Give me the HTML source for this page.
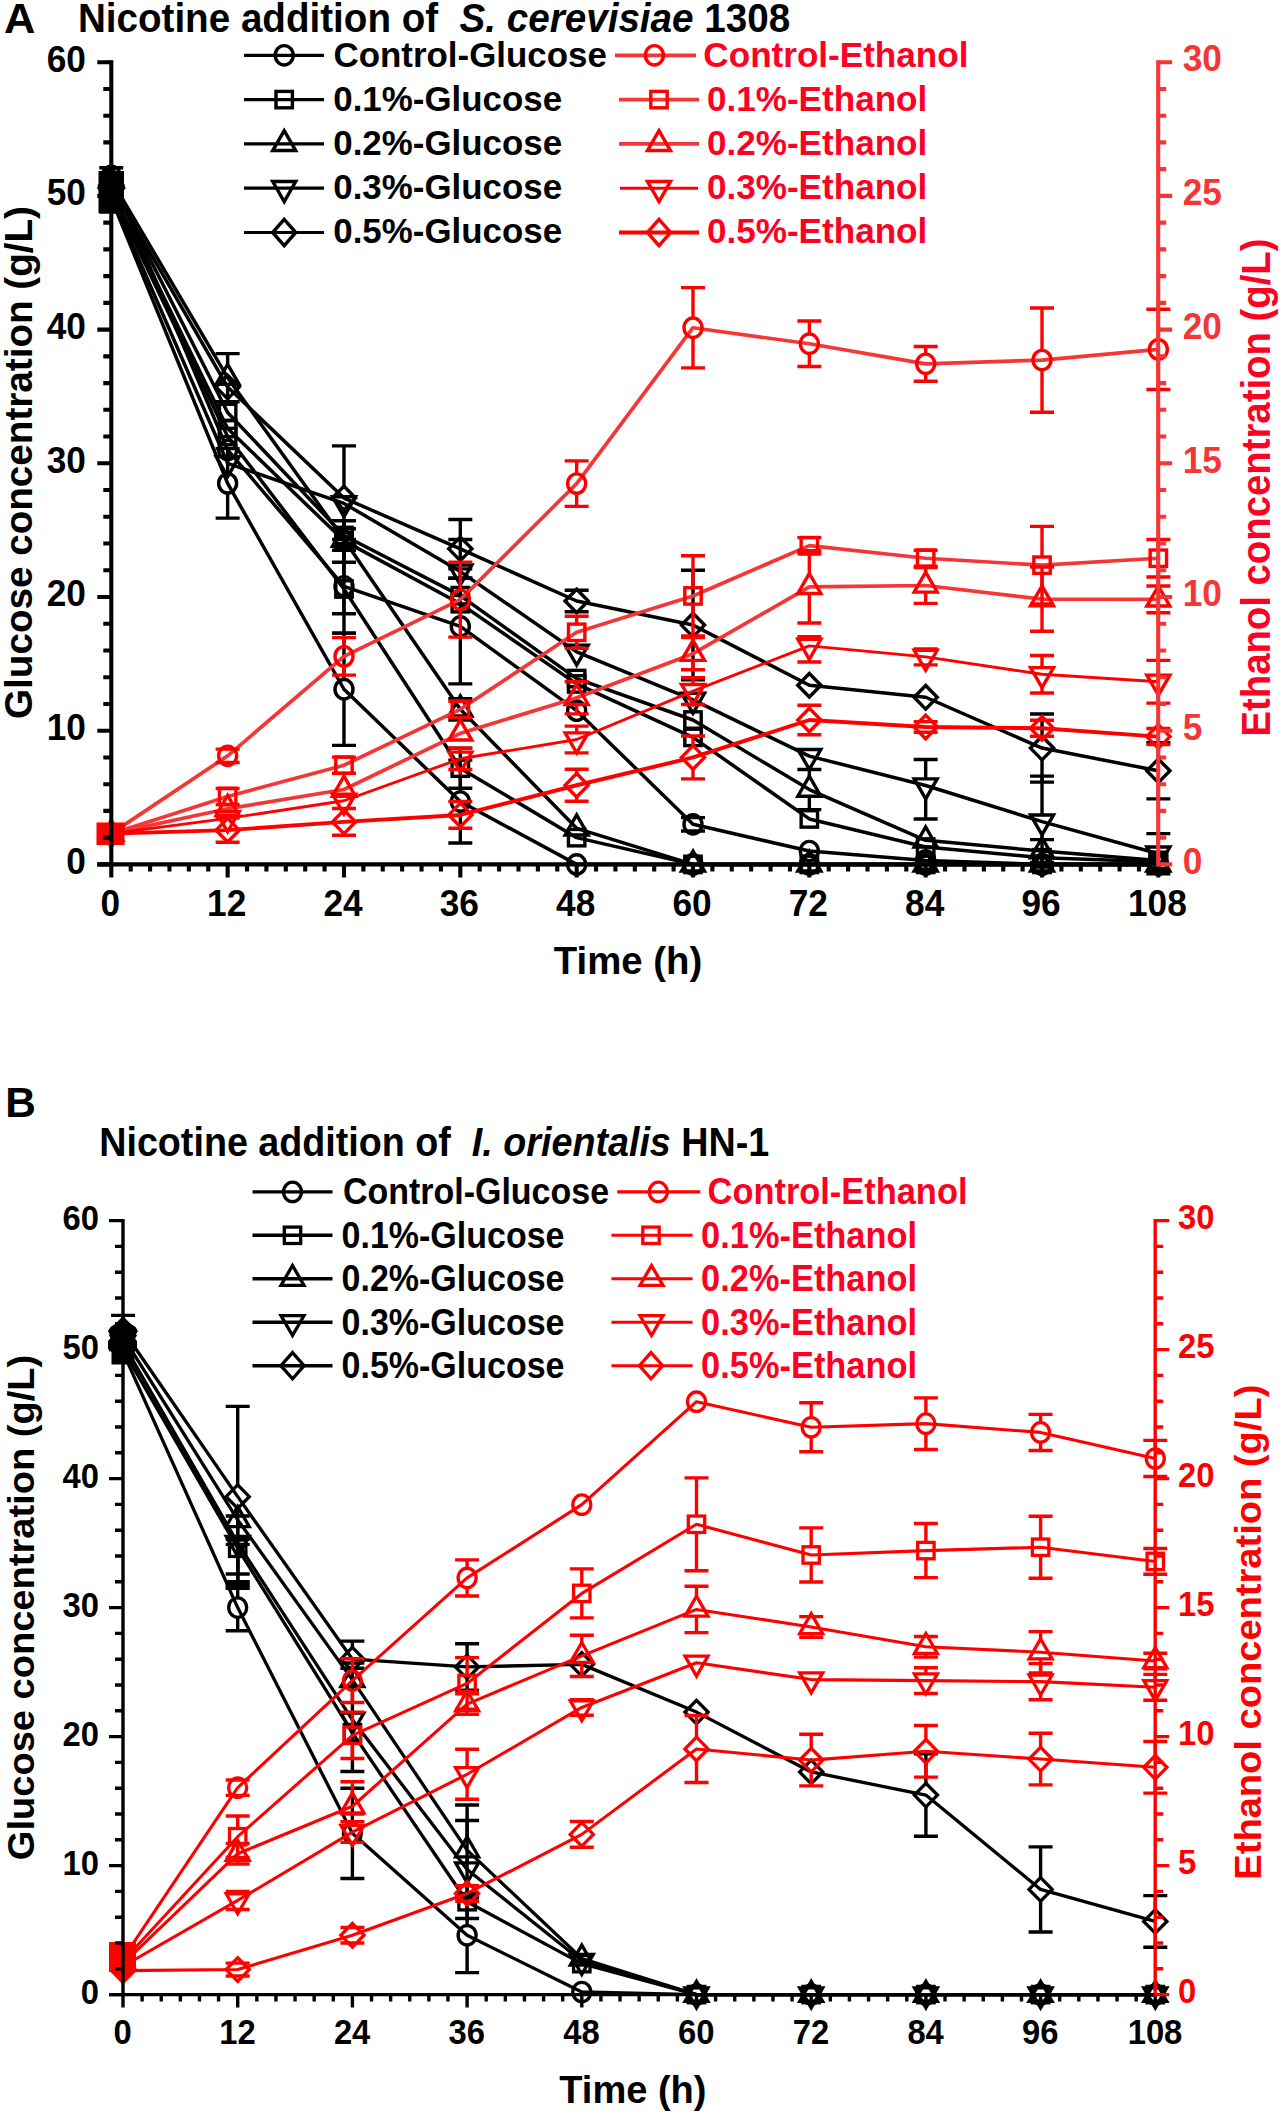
<!DOCTYPE html>
<html><head><meta charset="utf-8"><title>Nicotine addition</title>
<style>html,body{margin:0;padding:0;background:#fff;width:1280px;height:2114px;overflow:hidden}svg{display:block}</style>
</head><body>
<svg width="1280" height="2114" viewBox="0 0 1280 2114" font-family='"Liberation Sans", sans-serif' font-weight="bold"><rect width="1280" height="2114" fill="#fff"/><polyline points="111.3,185.2 227.64,387.09 343.98,498.06 460.32,548.87 576.66,601.01 693,625.08 809.34,685.24 925.68,697.27 1042.02,748.08 1158.36,770.81" fill="none" stroke="#000" stroke-width="3.5" stroke-linejoin="round"/><polyline points="111.3,195.9 227.64,463.3 343.98,503.41 460.32,571.6 576.66,651.82 693,699.95 809.34,756.1 925.68,785.52 1042.02,821.62 1158.36,853.7" fill="none" stroke="#000" stroke-width="3.5" stroke-linejoin="round"/><polyline points="111.3,182.53 227.64,412.49 343.98,535.5 460.32,595.66 576.66,678.56 693,720 809.34,789.53 925.68,840.33 1042.02,851.03 1158.36,860.39" fill="none" stroke="#000" stroke-width="3.5" stroke-linejoin="round"/><polyline points="111.3,189.22 227.64,428.54 343.98,540.85 460.32,603.68 576.66,683.9 693,737.38 809.34,818.94 925.68,847.02 1042.02,857.72 1158.36,861.73" fill="none" stroke="#000" stroke-width="3.5" stroke-linejoin="round"/><polyline points="111.3,175.85 227.64,449.93 343.98,586.3 460.32,626.41 576.66,710.64 693,824.29 809.34,851.03 925.68,860.39 1042.02,864.4 1158.36,864.4" fill="none" stroke="#000" stroke-width="3.5" stroke-linejoin="round"/><polyline points="111.3,179.86 227.64,377.73 343.98,539.51 460.32,709.31 576.66,828.3 693,864.4 809.34,864.4 925.68,864.4 1042.02,864.4 1158.36,864.4" fill="none" stroke="#000" stroke-width="3.5" stroke-linejoin="round"/><polyline points="111.3,193.23 227.64,436.56 343.98,588.98 460.32,768.14 576.66,837.66 693,864.4 809.34,864.4 925.68,864.4 1042.02,864.4 1158.36,864.4" fill="none" stroke="#000" stroke-width="3.5" stroke-linejoin="round"/><polyline points="111.3,198.57 227.64,483.36 343.98,689.25 460.32,801.56 576.66,864.4 693,864.4 809.34,864.4 925.68,864.4 1042.02,864.4 1158.36,864.4" fill="none" stroke="#000" stroke-width="3.5" stroke-linejoin="round"/><path d="M99.3 167.82H123.3M99.3 202.59H123.3M111.3 167.82V173.4M111.3 197V202.59" stroke="#000" stroke-width="3.4" fill="none"/><path d="M331.98 445.92H355.98M331.98 550.2H355.98M343.98 445.92V486.26M343.98 509.86V550.2" stroke="#000" stroke-width="3.4" fill="none"/><path d="M448.32 519.45H472.32M448.32 578.28H472.32M460.32 519.45V537.07M460.32 560.67V578.28" stroke="#000" stroke-width="3.4" fill="none"/><path d="M564.66 590.32H588.66M564.66 611.71H588.66" stroke="#000" stroke-width="3.4" fill="none"/><path d="M681 570.26H705M681 679.89H705M693 570.26V613.28M693 636.88V679.89" stroke="#000" stroke-width="3.4" fill="none"/><path d="M1030.02 713.99H1054.02M1030.02 782.17H1054.02M1042.02 713.99V736.28M1042.02 759.88V782.17" stroke="#000" stroke-width="3.4" fill="none"/><path d="M1146.36 742.73H1170.36M1146.36 798.89H1170.36M1158.36 742.73V759.01M1158.36 782.61V798.89" stroke="#000" stroke-width="3.4" fill="none"/><path d="M99.3 179.86H123.3M99.3 211.94H123.3M111.3 179.86V189.2M111.3 209.2V211.94" stroke="#000" stroke-width="3.4" fill="none"/><path d="M448.32 539.51H472.32M448.32 578.28H472.32M460.32 539.51V564.9" stroke="#000" stroke-width="3.4" fill="none"/><path d="M913.68 759.45H937.68M913.68 818.94H937.68M925.68 759.45V778.82M925.68 798.82V818.94" stroke="#000" stroke-width="3.4" fill="none"/><path d="M1030.02 776.16H1054.02M1030.02 867.07H1054.02M1042.02 776.16V814.92M1042.02 834.92V867.07" stroke="#000" stroke-width="3.4" fill="none"/><path d="M1146.36 833.65H1170.36M1146.36 873.76H1170.36M1158.36 833.65V847M1158.36 867V873.76" stroke="#000" stroke-width="3.4" fill="none"/><path d="M331.98 528.81H355.98M331.98 562.24H355.98M343.98 543.7V562.24" stroke="#000" stroke-width="3.4" fill="none"/><path d="M797.34 769.47H821.34M797.34 809.58H821.34M809.34 769.47V776.23M809.34 796.23V809.58" stroke="#000" stroke-width="3.4" fill="none"/><path d="M1030.02 839.67H1054.02M1030.02 862.39H1054.02M1042.02 857.73V862.39" stroke="#000" stroke-width="3.4" fill="none"/><path d="M331.98 520.79H355.98M331.98 613.71H355.98M343.98 520.79V532.65M343.98 549.05V613.71" stroke="#000" stroke-width="3.4" fill="none"/><path d="M331.98 539.51H355.98M331.98 633.1H355.98M343.98 539.51V576.6M343.98 596V633.1" stroke="#000" stroke-width="3.4" fill="none"/><path d="M448.32 568.92H472.32M448.32 683.9H472.32M460.32 568.92V616.71M460.32 636.11V683.9" stroke="#000" stroke-width="3.4" fill="none"/><path d="M681 817.61H705M681 830.98H705" stroke="#000" stroke-width="3.4" fill="none"/><path d="M215.64 353.67H239.64M215.64 401.8H239.64M227.64 353.67V364.43M227.64 384.43V401.8" stroke="#000" stroke-width="3.4" fill="none"/><path d="M448.32 698.61H472.32M448.32 720H472.32M460.32 716.01V720" stroke="#000" stroke-width="3.4" fill="none"/><path d="M448.32 748.08H472.32M448.32 788.19H472.32M460.32 748.08V759.94M460.32 776.34V788.19" stroke="#000" stroke-width="3.4" fill="none"/><path d="M215.64 448.59H239.64M215.64 518.12H239.64M227.64 448.59V473.66M227.64 493.06V518.12" stroke="#000" stroke-width="3.4" fill="none"/><path d="M331.98 633.1H355.98M331.98 745.41H355.98M343.98 633.1V679.55M343.98 698.95V745.41" stroke="#000" stroke-width="3.4" fill="none"/><path d="M448.32 760.11H472.32M448.32 843.01H472.32M460.32 760.11V791.86M460.32 811.26V843.01" stroke="#000" stroke-width="3.4" fill="none"/><path d="M111.3 173.4L122.9 185.2L111.3 197L99.7 185.2Z" fill="none" stroke="#000" stroke-width="3.4"/><path d="M227.64 375.29L239.24 387.09L227.64 398.89L216.04 387.09Z" fill="none" stroke="#000" stroke-width="3.4"/><path d="M343.98 486.26L355.58 498.06L343.98 509.86L332.38 498.06Z" fill="none" stroke="#000" stroke-width="3.4"/><path d="M460.32 537.07L471.92 548.87L460.32 560.67L448.72 548.87Z" fill="none" stroke="#000" stroke-width="3.4"/><path d="M576.66 589.21L588.26 601.01L576.66 612.81L565.06 601.01Z" fill="none" stroke="#000" stroke-width="3.4"/><path d="M693 613.28L704.6 625.08L693 636.88L681.4 625.08Z" fill="none" stroke="#000" stroke-width="3.4"/><path d="M809.34 673.44L820.94 685.24L809.34 697.04L797.74 685.24Z" fill="none" stroke="#000" stroke-width="3.4"/><path d="M925.68 685.48L937.28 697.27L925.68 709.07L914.08 697.27Z" fill="none" stroke="#000" stroke-width="3.4"/><path d="M1042.02 736.28L1053.62 748.08L1042.02 759.88L1030.42 748.08Z" fill="none" stroke="#000" stroke-width="3.4"/><path d="M1158.36 759.01L1169.96 770.81L1158.36 782.61L1146.76 770.81Z" fill="none" stroke="#000" stroke-width="3.4"/><path d="M111.3 209.23L122.8 189.23L99.8 189.23Z" fill="none" stroke="#000" stroke-width="3.4"/><path d="M227.64 476.63L239.14 456.63L216.14 456.63Z" fill="none" stroke="#000" stroke-width="3.4"/><path d="M343.98 516.74L355.48 496.74L332.48 496.74Z" fill="none" stroke="#000" stroke-width="3.4"/><path d="M460.32 584.93L471.82 564.93L448.82 564.93Z" fill="none" stroke="#000" stroke-width="3.4"/><path d="M576.66 665.15L588.16 645.15L565.16 645.15Z" fill="none" stroke="#000" stroke-width="3.4"/><path d="M693 713.28L704.5 693.28L681.5 693.28Z" fill="none" stroke="#000" stroke-width="3.4"/><path d="M809.34 769.44L820.84 749.44L797.84 749.44Z" fill="none" stroke="#000" stroke-width="3.4"/><path d="M925.68 798.85L937.18 778.85L914.18 778.85Z" fill="none" stroke="#000" stroke-width="3.4"/><path d="M1042.02 834.95L1053.52 814.95L1030.52 814.95Z" fill="none" stroke="#000" stroke-width="3.4"/><path d="M1158.36 867.04L1169.86 847.04L1146.86 847.04Z" fill="none" stroke="#000" stroke-width="3.4"/><rect x="103.1" y="174.33" width="16.4" height="16.4" fill="none" stroke="#000" stroke-width="3.4"/><rect x="219.44" y="404.29" width="16.4" height="16.4" fill="none" stroke="#000" stroke-width="3.4"/><rect x="335.78" y="527.3" width="16.4" height="16.4" fill="none" stroke="#000" stroke-width="3.4"/><rect x="452.12" y="587.46" width="16.4" height="16.4" fill="none" stroke="#000" stroke-width="3.4"/><rect x="568.46" y="670.36" width="16.4" height="16.4" fill="none" stroke="#000" stroke-width="3.4"/><rect x="684.8" y="711.8" width="16.4" height="16.4" fill="none" stroke="#000" stroke-width="3.4"/><path d="M809.34 776.19L820.84 796.19L797.84 796.19Z" fill="none" stroke="#000" stroke-width="3.4"/><path d="M925.68 827L937.18 847L914.18 847Z" fill="none" stroke="#000" stroke-width="3.4"/><path d="M1042.02 837.7L1053.52 857.7L1030.52 857.7Z" fill="none" stroke="#000" stroke-width="3.4"/><rect x="1150.16" y="852.19" width="16.4" height="16.4" fill="none" stroke="#000" stroke-width="3.4"/><rect x="103.1" y="181.02" width="16.4" height="16.4" fill="none" stroke="#000" stroke-width="3.4"/><rect x="219.44" y="420.34" width="16.4" height="16.4" fill="none" stroke="#000" stroke-width="3.4"/><rect x="335.78" y="532.65" width="16.4" height="16.4" fill="none" stroke="#000" stroke-width="3.4"/><rect x="452.12" y="595.48" width="16.4" height="16.4" fill="none" stroke="#000" stroke-width="3.4"/><rect x="568.46" y="675.7" width="16.4" height="16.4" fill="none" stroke="#000" stroke-width="3.4"/><rect x="684.8" y="729.18" width="16.4" height="16.4" fill="none" stroke="#000" stroke-width="3.4"/><rect x="801.14" y="810.74" width="16.4" height="16.4" fill="none" stroke="#000" stroke-width="3.4"/><rect x="917.48" y="838.82" width="16.4" height="16.4" fill="none" stroke="#000" stroke-width="3.4"/><rect x="1033.82" y="849.51" width="16.4" height="16.4" fill="none" stroke="#000" stroke-width="3.4"/><rect x="1150.16" y="853.53" width="16.4" height="16.4" fill="none" stroke="#000" stroke-width="3.4"/><ellipse cx="111.3" cy="175.85" rx="9.0" ry="9.7" fill="none" stroke="#000" stroke-width="3.4"/><ellipse cx="227.64" cy="449.93" rx="9.0" ry="9.7" fill="none" stroke="#000" stroke-width="3.4"/><ellipse cx="343.98" cy="586.3" rx="9.0" ry="9.7" fill="none" stroke="#000" stroke-width="3.4"/><ellipse cx="460.32" cy="626.41" rx="9.0" ry="9.7" fill="none" stroke="#000" stroke-width="3.4"/><ellipse cx="576.66" cy="710.64" rx="9.0" ry="9.7" fill="none" stroke="#000" stroke-width="3.4"/><ellipse cx="693" cy="824.29" rx="9.0" ry="9.7" fill="none" stroke="#000" stroke-width="3.4"/><ellipse cx="809.34" cy="851.03" rx="9.0" ry="9.7" fill="none" stroke="#000" stroke-width="3.4"/><ellipse cx="925.68" cy="860.39" rx="9.0" ry="9.7" fill="none" stroke="#000" stroke-width="3.4"/><ellipse cx="1042.02" cy="864.4" rx="9.0" ry="9.7" fill="none" stroke="#000" stroke-width="3.4"/><ellipse cx="1158.36" cy="864.4" rx="9.0" ry="9.7" fill="none" stroke="#000" stroke-width="3.4"/><path d="M111.3 166.52L122.8 186.52L99.8 186.52Z" fill="none" stroke="#000" stroke-width="3.4"/><path d="M227.64 364.4L239.14 384.4L216.14 384.4Z" fill="none" stroke="#000" stroke-width="3.4"/><path d="M343.98 526.18L355.48 546.18L332.48 546.18Z" fill="none" stroke="#000" stroke-width="3.4"/><path d="M460.32 695.97L471.82 715.97L448.82 715.97Z" fill="none" stroke="#000" stroke-width="3.4"/><path d="M576.66 814.97L588.16 834.97L565.16 834.97Z" fill="none" stroke="#000" stroke-width="3.4"/><path d="M693 851.07L704.5 871.07L681.5 871.07Z" fill="none" stroke="#000" stroke-width="3.4"/><path d="M809.34 851.07L820.84 871.07L797.84 871.07Z" fill="none" stroke="#000" stroke-width="3.4"/><path d="M925.68 851.07L937.18 871.07L914.18 871.07Z" fill="none" stroke="#000" stroke-width="3.4"/><path d="M1042.02 851.07L1053.52 871.07L1030.52 871.07Z" fill="none" stroke="#000" stroke-width="3.4"/><path d="M1158.36 851.07L1169.86 871.07L1146.86 871.07Z" fill="none" stroke="#000" stroke-width="3.4"/><rect x="103.1" y="185.03" width="16.4" height="16.4" fill="none" stroke="#000" stroke-width="3.4"/><rect x="219.44" y="428.36" width="16.4" height="16.4" fill="none" stroke="#000" stroke-width="3.4"/><rect x="335.78" y="580.78" width="16.4" height="16.4" fill="none" stroke="#000" stroke-width="3.4"/><rect x="452.12" y="759.94" width="16.4" height="16.4" fill="none" stroke="#000" stroke-width="3.4"/><rect x="568.46" y="829.46" width="16.4" height="16.4" fill="none" stroke="#000" stroke-width="3.4"/><rect x="684.8" y="856.2" width="16.4" height="16.4" fill="none" stroke="#000" stroke-width="3.4"/><rect x="801.14" y="856.2" width="16.4" height="16.4" fill="none" stroke="#000" stroke-width="3.4"/><rect x="917.48" y="856.2" width="16.4" height="16.4" fill="none" stroke="#000" stroke-width="3.4"/><rect x="1033.82" y="856.2" width="16.4" height="16.4" fill="none" stroke="#000" stroke-width="3.4"/><rect x="1150.16" y="856.2" width="16.4" height="16.4" fill="none" stroke="#000" stroke-width="3.4"/><ellipse cx="111.3" cy="198.57" rx="9.0" ry="9.7" fill="none" stroke="#000" stroke-width="3.4"/><ellipse cx="227.64" cy="483.36" rx="9.0" ry="9.7" fill="none" stroke="#000" stroke-width="3.4"/><ellipse cx="343.98" cy="689.25" rx="9.0" ry="9.7" fill="none" stroke="#000" stroke-width="3.4"/><ellipse cx="460.32" cy="801.56" rx="9.0" ry="9.7" fill="none" stroke="#000" stroke-width="3.4"/><ellipse cx="576.66" cy="864.4" rx="9.0" ry="9.7" fill="none" stroke="#000" stroke-width="3.4"/><ellipse cx="693" cy="864.4" rx="9.0" ry="9.7" fill="none" stroke="#000" stroke-width="3.4"/><ellipse cx="809.34" cy="864.4" rx="9.0" ry="9.7" fill="none" stroke="#000" stroke-width="3.4"/><ellipse cx="925.68" cy="864.4" rx="9.0" ry="9.7" fill="none" stroke="#000" stroke-width="3.4"/><ellipse cx="1042.02" cy="864.4" rx="9.0" ry="9.7" fill="none" stroke="#000" stroke-width="3.4"/><ellipse cx="1158.36" cy="864.4" rx="9.0" ry="9.7" fill="none" stroke="#000" stroke-width="3.4"/><polyline points="111.3,833.65 227.64,755.84 343.98,656.36 460.32,599.67 576.66,483.62 693,327.73 809.34,343.77 925.68,363.83 1042.02,360.08 1158.36,349.39" fill="none" stroke="#F43636" stroke-width="3.7" stroke-linejoin="round"/><polyline points="111.3,833.65 227.64,796.48 343.98,765.19 460.32,709.31 576.66,632.3 693,595.93 809.34,545.66 925.68,558.23 1042.02,565.18 1158.36,558.23" fill="none" stroke="#F43636" stroke-width="3.7" stroke-linejoin="round"/><polyline points="111.3,833.65 227.64,808.78 343.98,789.53 460.32,733.37 576.66,697.81 693,653.69 809.34,586.84 925.68,585.5 1042.02,599.14 1158.36,599.41" fill="none" stroke="#F43636" stroke-width="3.7" stroke-linejoin="round"/><polyline points="111.3,833.65 227.64,818.41 343.98,800.76 460.32,758.78 576.66,739.52 693,691.12 809.34,645.93 925.68,656.9 1042.02,674.28 1158.36,681.77" fill="none" stroke="#FF0000" stroke-width="2.9" stroke-linejoin="round"/><polyline points="111.3,833.65 227.64,830.17 343.98,821.88 460.32,814.93 576.66,785.25 693,757.44 809.34,720 925.68,726.96 1042.02,728.29 1158.36,736.58" fill="none" stroke="#FF0000" stroke-width="3.9" stroke-linejoin="round"/><path d="M215.64 749.15H239.64M215.64 762.52H239.64" stroke="#FF0000" stroke-width="3.4" fill="none"/><path d="M331.98 637.64H355.98M331.98 675.08H355.98M343.98 637.64V646.66M343.98 666.06V675.08" stroke="#FF0000" stroke-width="3.4" fill="none"/><path d="M448.32 562.24H472.32M448.32 637.11H472.32M460.32 562.24V589.97M460.32 609.37V637.11" stroke="#FF0000" stroke-width="3.4" fill="none"/><path d="M564.66 460.89H588.66M564.66 506.35H588.66M576.66 460.89V473.92M576.66 493.32V506.35" stroke="#FF0000" stroke-width="3.4" fill="none"/><path d="M681 287.62H705M681 367.84H705M693 287.62V318.03M693 337.43V367.84" stroke="#FF0000" stroke-width="3.4" fill="none"/><path d="M797.34 321.04H821.34M797.34 366.5H821.34M809.34 321.04V334.07M809.34 353.47V366.5" stroke="#FF0000" stroke-width="3.4" fill="none"/><path d="M913.68 346.45H937.68M913.68 381.21H937.68M925.68 346.45V354.13M925.68 373.53V381.21" stroke="#FF0000" stroke-width="3.4" fill="none"/><path d="M1030.02 307.94H1054.02M1030.02 412.23H1054.02M1042.02 307.94V350.38M1042.02 369.78V412.23" stroke="#FF0000" stroke-width="3.4" fill="none"/><path d="M1146.36 309.28H1170.36M1146.36 389.5H1170.36M1158.36 309.28V339.69M1158.36 359.09V389.5" stroke="#FF0000" stroke-width="3.4" fill="none"/><path d="M215.64 788.46H239.64M215.64 804.5H239.64" stroke="#FF0000" stroke-width="3.4" fill="none"/><path d="M331.98 757.17H355.98M331.98 773.22H355.98" stroke="#FF0000" stroke-width="3.4" fill="none"/><path d="M448.32 701.29H472.32M448.32 717.33H472.32" stroke="#FF0000" stroke-width="3.4" fill="none"/><path d="M564.66 616.25H588.66M564.66 648.34H588.66M576.66 616.25V624.1M576.66 640.5V648.34" stroke="#FF0000" stroke-width="3.4" fill="none"/><path d="M681 555.82H705M681 636.04H705M693 555.82V587.73M693 604.13V636.04" stroke="#FF0000" stroke-width="3.4" fill="none"/><path d="M797.34 537.64H821.34M797.34 553.68H821.34" stroke="#FF0000" stroke-width="3.4" fill="none"/><path d="M913.68 550.2H937.68M913.68 566.25H937.68" stroke="#FF0000" stroke-width="3.4" fill="none"/><path d="M1030.02 526.41H1054.02M1030.02 603.95H1054.02M1042.02 526.41V556.98M1042.02 573.38V603.95" stroke="#FF0000" stroke-width="3.4" fill="none"/><path d="M1146.36 539.51H1170.36M1146.36 576.94H1170.36M1158.36 539.51V550.03M1158.36 566.43V576.94" stroke="#FF0000" stroke-width="3.4" fill="none"/><path d="M564.66 681.77H588.66M564.66 713.85H588.66M576.66 681.77V684.51M576.66 704.51V713.85" stroke="#FF0000" stroke-width="3.4" fill="none"/><path d="M681 637.64H705M681 669.73H705M693 637.64V640.39M693 660.39V669.73" stroke="#FF0000" stroke-width="3.4" fill="none"/><path d="M797.34 550.74H821.34M797.34 622.94H821.34M809.34 550.74V573.54M809.34 593.54V622.94" stroke="#FF0000" stroke-width="3.4" fill="none"/><path d="M913.68 567.59H937.68M913.68 603.42H937.68M925.68 567.59V572.2M925.68 592.2V603.42" stroke="#FF0000" stroke-width="3.4" fill="none"/><path d="M1030.02 567.05H1054.02M1030.02 631.23H1054.02M1042.02 567.05V585.84M1042.02 605.84V631.23" stroke="#FF0000" stroke-width="3.4" fill="none"/><path d="M1146.36 586.04H1170.36M1146.36 612.78H1170.36M1158.36 586.04V586.11M1158.36 606.11V612.78" stroke="#FF0000" stroke-width="3.4" fill="none"/><path d="M448.32 748.08H472.32M448.32 769.47H472.32M460.32 748.08V752.08" stroke="#FF0000" stroke-width="3.4" fill="none"/><path d="M564.66 726.15H588.66M564.66 752.89H588.66M576.66 726.15V732.82M576.66 752.82V752.89" stroke="#FF0000" stroke-width="3.4" fill="none"/><path d="M681 677.75H705M681 704.49H705M693 677.75V684.42M693 704.42V704.49" stroke="#FF0000" stroke-width="3.4" fill="none"/><path d="M797.34 636.58H821.34M797.34 661.98H821.34M809.34 636.58V639.23M809.34 659.23V661.98" stroke="#FF0000" stroke-width="3.4" fill="none"/><path d="M913.68 648.88H937.68M913.68 664.92H937.68M925.68 648.88V650.2" stroke="#FF0000" stroke-width="3.4" fill="none"/><path d="M1030.02 655.56H1054.02M1030.02 693H1054.02M1042.02 655.56V667.58M1042.02 687.58V693" stroke="#FF0000" stroke-width="3.4" fill="none"/><path d="M1146.36 660.37H1170.36M1146.36 703.16H1170.36M1158.36 660.37V675.07M1158.36 695.07V703.16" stroke="#FF0000" stroke-width="3.4" fill="none"/><path d="M215.64 818.14H239.64M215.64 842.21H239.64M227.64 818.14V818.37M227.64 841.97V842.21" stroke="#FF0000" stroke-width="3.4" fill="none"/><path d="M331.98 808.51H355.98M331.98 835.25H355.98M343.98 808.51V810.08M343.98 833.68V835.25" stroke="#FF0000" stroke-width="3.4" fill="none"/><path d="M448.32 801.56H472.32M448.32 828.3H472.32M460.32 801.56V803.13M460.32 826.73V828.3" stroke="#FF0000" stroke-width="3.4" fill="none"/><path d="M564.66 769.21H588.66M564.66 801.29H588.66M576.66 769.21V773.45M576.66 797.05V801.29" stroke="#FF0000" stroke-width="3.4" fill="none"/><path d="M681 736.05H705M681 778.83H705M693 736.05V745.64M693 769.24V778.83" stroke="#FF0000" stroke-width="3.4" fill="none"/><path d="M797.34 705.3H821.34M797.34 734.71H821.34M809.34 705.3V708.2M809.34 731.8V734.71" stroke="#FF0000" stroke-width="3.4" fill="none"/><path d="M913.68 721.61H937.68M913.68 732.3H937.68" stroke="#FF0000" stroke-width="3.4" fill="none"/><path d="M1030.02 720.27H1054.02M1030.02 736.32H1054.02" stroke="#FF0000" stroke-width="3.4" fill="none"/><path d="M1146.36 728.56H1170.36M1146.36 744.6H1170.36" stroke="#FF0000" stroke-width="3.4" fill="none"/><ellipse cx="111.3" cy="833.65" rx="9.0" ry="9.7" fill="none" stroke="#FF0000" stroke-width="3.4"/><ellipse cx="227.64" cy="755.84" rx="9.0" ry="9.7" fill="none" stroke="#FF0000" stroke-width="3.4"/><ellipse cx="343.98" cy="656.36" rx="9.0" ry="9.7" fill="none" stroke="#FF0000" stroke-width="3.4"/><ellipse cx="460.32" cy="599.67" rx="9.0" ry="9.7" fill="none" stroke="#FF0000" stroke-width="3.4"/><ellipse cx="576.66" cy="483.62" rx="9.0" ry="9.7" fill="none" stroke="#FF0000" stroke-width="3.4"/><ellipse cx="693" cy="327.73" rx="9.0" ry="9.7" fill="none" stroke="#FF0000" stroke-width="3.4"/><ellipse cx="809.34" cy="343.77" rx="9.0" ry="9.7" fill="none" stroke="#FF0000" stroke-width="3.4"/><ellipse cx="925.68" cy="363.83" rx="9.0" ry="9.7" fill="none" stroke="#FF0000" stroke-width="3.4"/><ellipse cx="1042.02" cy="360.08" rx="9.0" ry="9.7" fill="none" stroke="#FF0000" stroke-width="3.4"/><ellipse cx="1158.36" cy="349.39" rx="9.0" ry="9.7" fill="none" stroke="#FF0000" stroke-width="3.4"/><rect x="103.1" y="825.45" width="16.4" height="16.4" fill="none" stroke="#FF0000" stroke-width="3.4"/><rect x="219.44" y="788.28" width="16.4" height="16.4" fill="none" stroke="#FF0000" stroke-width="3.4"/><rect x="335.78" y="756.99" width="16.4" height="16.4" fill="none" stroke="#FF0000" stroke-width="3.4"/><rect x="452.12" y="701.11" width="16.4" height="16.4" fill="none" stroke="#FF0000" stroke-width="3.4"/><rect x="568.46" y="624.1" width="16.4" height="16.4" fill="none" stroke="#FF0000" stroke-width="3.4"/><rect x="684.8" y="587.73" width="16.4" height="16.4" fill="none" stroke="#FF0000" stroke-width="3.4"/><rect x="801.14" y="537.46" width="16.4" height="16.4" fill="none" stroke="#FF0000" stroke-width="3.4"/><rect x="917.48" y="550.03" width="16.4" height="16.4" fill="none" stroke="#FF0000" stroke-width="3.4"/><rect x="1033.82" y="556.98" width="16.4" height="16.4" fill="none" stroke="#FF0000" stroke-width="3.4"/><rect x="1150.16" y="550.03" width="16.4" height="16.4" fill="none" stroke="#FF0000" stroke-width="3.4"/><path d="M111.3 820.32L122.8 840.32L99.8 840.32Z" fill="none" stroke="#FF0000" stroke-width="3.4"/><path d="M227.64 795.45L239.14 815.45L216.14 815.45Z" fill="none" stroke="#FF0000" stroke-width="3.4"/><path d="M343.98 776.19L355.48 796.19L332.48 796.19Z" fill="none" stroke="#FF0000" stroke-width="3.4"/><path d="M460.32 720.04L471.82 740.04L448.82 740.04Z" fill="none" stroke="#FF0000" stroke-width="3.4"/><path d="M576.66 684.48L588.16 704.48L565.16 704.48Z" fill="none" stroke="#FF0000" stroke-width="3.4"/><path d="M693 640.36L704.5 660.36L681.5 660.36Z" fill="none" stroke="#FF0000" stroke-width="3.4"/><path d="M809.34 573.51L820.84 593.51L797.84 593.51Z" fill="none" stroke="#FF0000" stroke-width="3.4"/><path d="M925.68 572.17L937.18 592.17L914.18 592.17Z" fill="none" stroke="#FF0000" stroke-width="3.4"/><path d="M1042.02 585.81L1053.52 605.81L1030.52 605.81Z" fill="none" stroke="#FF0000" stroke-width="3.4"/><path d="M1158.36 586.07L1169.86 606.07L1146.86 606.07Z" fill="none" stroke="#FF0000" stroke-width="3.4"/><path d="M111.3 846.98L122.8 826.98L99.8 826.98Z" fill="none" stroke="#FF0000" stroke-width="3.4"/><path d="M227.64 831.74L239.14 811.74L216.14 811.74Z" fill="none" stroke="#FF0000" stroke-width="3.4"/><path d="M343.98 814.09L355.48 794.09L332.48 794.09Z" fill="none" stroke="#FF0000" stroke-width="3.4"/><path d="M460.32 772.11L471.82 752.11L448.82 752.11Z" fill="none" stroke="#FF0000" stroke-width="3.4"/><path d="M576.66 752.86L588.16 732.86L565.16 732.86Z" fill="none" stroke="#FF0000" stroke-width="3.4"/><path d="M693 704.46L704.5 684.46L681.5 684.46Z" fill="none" stroke="#FF0000" stroke-width="3.4"/><path d="M809.34 659.27L820.84 639.27L797.84 639.27Z" fill="none" stroke="#FF0000" stroke-width="3.4"/><path d="M925.68 670.23L937.18 650.23L914.18 650.23Z" fill="none" stroke="#FF0000" stroke-width="3.4"/><path d="M1042.02 687.61L1053.52 667.61L1030.52 667.61Z" fill="none" stroke="#FF0000" stroke-width="3.4"/><path d="M1158.36 695.1L1169.86 675.1L1146.86 675.1Z" fill="none" stroke="#FF0000" stroke-width="3.4"/><path d="M111.3 821.85L122.9 833.65L111.3 845.45L99.7 833.65Z" fill="none" stroke="#FF0000" stroke-width="3.4"/><path d="M227.64 818.37L239.24 830.17L227.64 841.97L216.04 830.17Z" fill="none" stroke="#FF0000" stroke-width="3.4"/><path d="M343.98 810.08L355.58 821.88L343.98 833.68L332.38 821.88Z" fill="none" stroke="#FF0000" stroke-width="3.4"/><path d="M460.32 803.13L471.92 814.93L460.32 826.73L448.72 814.93Z" fill="none" stroke="#FF0000" stroke-width="3.4"/><path d="M576.66 773.45L588.26 785.25L576.66 797.05L565.06 785.25Z" fill="none" stroke="#FF0000" stroke-width="3.4"/><path d="M693 745.64L704.6 757.44L693 769.24L681.4 757.44Z" fill="none" stroke="#FF0000" stroke-width="3.4"/><path d="M809.34 708.2L820.94 720L809.34 731.8L797.74 720Z" fill="none" stroke="#FF0000" stroke-width="3.4"/><path d="M925.68 715.16L937.28 726.96L925.68 738.76L914.08 726.96Z" fill="none" stroke="#FF0000" stroke-width="3.4"/><path d="M1042.02 716.49L1053.62 728.29L1042.02 740.09L1030.42 728.29Z" fill="none" stroke="#FF0000" stroke-width="3.4"/><path d="M1158.36 724.78L1169.96 736.58L1158.36 748.38L1146.76 736.58Z" fill="none" stroke="#FF0000" stroke-width="3.4"/><rect x="98.5" y="171" width="25.5" height="42" fill="#000"/><rect x="96.5" y="822.5" width="28" height="22.5" fill="#FF0000"/><path d="M111.3 60.3V866.45" stroke="#000" stroke-width="4.1"/><path d="M97.3 864.4H111.3M103.3 837.66H111.3M103.3 810.92H111.3M103.3 784.18H111.3M103.3 757.44H111.3M97.3 730.7H111.3M103.3 703.96H111.3M103.3 677.22H111.3M103.3 650.48H111.3M103.3 623.74H111.3M97.3 597H111.3M103.3 570.26H111.3M103.3 543.52H111.3M103.3 516.78H111.3M103.3 490.04H111.3M97.3 463.3H111.3M103.3 436.56H111.3M103.3 409.82H111.3M103.3 383.08H111.3M103.3 356.34H111.3M97.3 329.6H111.3M103.3 302.86H111.3M103.3 276.12H111.3M103.3 249.38H111.3M103.3 222.64H111.3M97.3 195.9H111.3M103.3 169.16H111.3M103.3 142.42H111.3M103.3 115.68H111.3M103.3 88.94H111.3M97.3 62.2H111.3" stroke="#000" stroke-width="4.1"/><path d="M97.3 864.4H1158.2" stroke="#000" stroke-width="4.1"/><path d="M111.3 864.4V877.4M130.69 864.4V871.4M150.08 864.4V871.4M169.47 864.4V871.4M188.86 864.4V871.4M208.25 864.4V871.4M227.64 864.4V877.4M247.03 864.4V871.4M266.42 864.4V871.4M285.81 864.4V871.4M305.2 864.4V871.4M324.59 864.4V871.4M343.98 864.4V877.4M363.37 864.4V871.4M382.76 864.4V871.4M402.15 864.4V871.4M421.54 864.4V871.4M440.93 864.4V871.4M460.32 864.4V877.4M479.71 864.4V871.4M499.1 864.4V871.4M518.49 864.4V871.4M537.88 864.4V871.4M557.27 864.4V871.4M576.66 864.4V877.4M596.05 864.4V871.4M615.44 864.4V871.4M634.83 864.4V871.4M654.22 864.4V871.4M673.61 864.4V871.4M693 864.4V877.4M712.39 864.4V871.4M731.78 864.4V871.4M751.17 864.4V871.4M770.56 864.4V871.4M789.95 864.4V871.4M809.34 864.4V877.4M828.73 864.4V871.4M848.12 864.4V871.4M867.51 864.4V871.4M886.9 864.4V871.4M906.29 864.4V871.4M925.68 864.4V877.4M945.07 864.4V871.4M964.46 864.4V871.4M983.85 864.4V871.4M1003.24 864.4V871.4M1022.63 864.4V871.4M1042.02 864.4V877.4M1061.41 864.4V871.4M1080.8 864.4V871.4M1100.19 864.4V871.4M1119.58 864.4V871.4M1138.97 864.4V871.4M1158.36 864.4V877.4" stroke="#000" stroke-width="4.1"/><path d="M1158.2 60.3V866.45" stroke="#F43636" stroke-width="4.1"/><path d="M1158.2 864.4H1172.2M1158.2 837.66H1166.2M1158.2 810.92H1166.2M1158.2 784.18H1166.2M1158.2 757.44H1166.2M1158.2 730.7H1172.2M1158.2 703.96H1166.2M1158.2 677.22H1166.2M1158.2 650.48H1166.2M1158.2 623.74H1166.2M1158.2 597H1172.2M1158.2 570.26H1166.2M1158.2 543.52H1166.2M1158.2 516.78H1166.2M1158.2 490.04H1166.2M1158.2 463.3H1172.2M1158.2 436.56H1166.2M1158.2 409.82H1166.2M1158.2 383.08H1166.2M1158.2 356.34H1166.2M1158.2 329.6H1172.2M1158.2 302.86H1166.2M1158.2 276.12H1166.2M1158.2 249.38H1166.2M1158.2 222.64H1166.2M1158.2 195.9H1172.2M1158.2 169.16H1166.2M1158.2 142.42H1166.2M1158.2 115.68H1166.2M1158.2 88.94H1166.2M1158.2 62.2H1172.2" stroke="#F43636" stroke-width="4.1"/><text transform="translate(85.9,873.85) scale(0.94,1)" font-size="37.5" fill="#000" text-anchor="end">0</text><text transform="translate(85.9,740.15) scale(0.94,1)" font-size="37.5" fill="#000" text-anchor="end">10</text><text transform="translate(85.9,606.45) scale(0.94,1)" font-size="37.5" fill="#000" text-anchor="end">20</text><text transform="translate(85.9,472.75) scale(0.94,1)" font-size="37.5" fill="#000" text-anchor="end">30</text><text transform="translate(85.9,339.05) scale(0.94,1)" font-size="37.5" fill="#000" text-anchor="end">40</text><text transform="translate(85.9,205.35) scale(0.94,1)" font-size="37.5" fill="#000" text-anchor="end">50</text><text transform="translate(85.9,71.65) scale(0.94,1)" font-size="37.5" fill="#000" text-anchor="end">60</text><text transform="translate(1182.7,873.65) scale(0.94,1)" font-size="37.5" fill="#F43636" text-anchor="start">0</text><text transform="translate(1182.7,739.95) scale(0.94,1)" font-size="37.5" fill="#F43636" text-anchor="start">5</text><text transform="translate(1182.7,606.25) scale(0.94,1)" font-size="37.5" fill="#F43636" text-anchor="start">10</text><text transform="translate(1182.7,472.55) scale(0.94,1)" font-size="37.5" fill="#F43636" text-anchor="start">15</text><text transform="translate(1182.7,338.85) scale(0.94,1)" font-size="37.5" fill="#F43636" text-anchor="start">20</text><text transform="translate(1182.7,205.15) scale(0.94,1)" font-size="37.5" fill="#F43636" text-anchor="start">25</text><text transform="translate(1182.7,71.45) scale(0.94,1)" font-size="37.5" fill="#F43636" text-anchor="start">30</text><text transform="translate(110.3,916.45) scale(0.94,1)" font-size="37.5" fill="#000" text-anchor="middle">0</text><text transform="translate(226.64,916.45) scale(0.94,1)" font-size="37.5" fill="#000" text-anchor="middle">12</text><text transform="translate(342.98,916.45) scale(0.94,1)" font-size="37.5" fill="#000" text-anchor="middle">24</text><text transform="translate(459.32,916.45) scale(0.94,1)" font-size="37.5" fill="#000" text-anchor="middle">36</text><text transform="translate(575.66,916.45) scale(0.94,1)" font-size="37.5" fill="#000" text-anchor="middle">48</text><text transform="translate(692,916.45) scale(0.94,1)" font-size="37.5" fill="#000" text-anchor="middle">60</text><text transform="translate(808.34,916.45) scale(0.94,1)" font-size="37.5" fill="#000" text-anchor="middle">72</text><text transform="translate(924.68,916.45) scale(0.94,1)" font-size="37.5" fill="#000" text-anchor="middle">84</text><text transform="translate(1041.02,916.45) scale(0.94,1)" font-size="37.5" fill="#000" text-anchor="middle">96</text><text transform="translate(1157.36,916.45) scale(0.94,1)" font-size="37.5" fill="#000" text-anchor="middle">108</text><text transform="translate(553.85,974.45) scale(0.9695,1)" font-size="39.544" fill="#000" text-anchor="start">Time (h)</text><text transform="translate(32.28,718.95) rotate(-90) scale(0.9881,1)" font-size="39.11" fill="#000" text-anchor="start">Glucose concentration (g/L)</text><text transform="translate(1269.8,736.6) rotate(-90) scale(0.9542,1)" font-size="40.179" fill="#FF0022" text-anchor="start">Ethanol concentration (g/L)</text><text transform="translate(4.05,32.65) scale(1.0058,1)" font-size="43.223" fill="#000" text-anchor="start">A</text><text transform="translate(77.9,32.15) scale(0.9293,1)" font-size="41.549" fill="#000" text-anchor="start" xml:space="preserve">Nicotine addition of  <tspan font-style="italic">S. cerevisiae</tspan> 1308</text><path d="M244 55.3H324" stroke="#000" stroke-width="3.2"/><ellipse cx="284.2" cy="55.3" rx="9.0" ry="9.7" fill="none" stroke="#000" stroke-width="3.4"/><text transform="translate(333.5,66.58) scale(0.9703,1)" font-size="35.976" fill="#000" text-anchor="start">Control-Glucose</text><path d="M615 55.3H696" stroke="#F43636" stroke-width="3.7"/><ellipse cx="654.4" cy="55.3" rx="9.0" ry="9.7" fill="none" stroke="#FF0000" stroke-width="3.4"/><text transform="translate(703.35,66.58) scale(0.9757,1)" font-size="35.976" fill="#FF0022" text-anchor="start">Control-Ethanol</text><path d="M244 99.6H324" stroke="#000" stroke-width="3.2"/><rect x="276" y="91.4" width="16.4" height="16.4" fill="none" stroke="#000" stroke-width="3.4"/><text transform="translate(333.25,110.8) scale(0.9703,1)" font-size="35.976" fill="#000" text-anchor="start">0.1%-Glucose</text><path d="M619 99.6H699" stroke="#F43636" stroke-width="3.7"/><rect x="650.8" y="91.4" width="16.4" height="16.4" fill="none" stroke="#FF0000" stroke-width="3.4"/><text transform="translate(706.95,110.8) scale(0.9757,1)" font-size="35.976" fill="#FF0022" text-anchor="start">0.1%-Ethanol</text><path d="M244 143.9H324" stroke="#000" stroke-width="3.2"/><path d="M284.2 130.57L295.7 150.57L272.7 150.57Z" fill="none" stroke="#000" stroke-width="3.4"/><text transform="translate(333.25,155.02) scale(0.9703,1)" font-size="35.976" fill="#000" text-anchor="start">0.2%-Glucose</text><path d="M619 143.9H699" stroke="#F43636" stroke-width="3.7"/><path d="M659 130.57L670.5 150.57L647.5 150.57Z" fill="none" stroke="#FF0000" stroke-width="3.4"/><text transform="translate(706.95,155.02) scale(0.9757,1)" font-size="35.976" fill="#FF0022" text-anchor="start">0.2%-Ethanol</text><path d="M244 188.2H324" stroke="#000" stroke-width="3.2"/><path d="M284.2 201.53L295.7 181.53L272.7 181.53Z" fill="none" stroke="#000" stroke-width="3.4"/><text transform="translate(333.25,199.24) scale(0.9703,1)" font-size="35.976" fill="#000" text-anchor="start">0.3%-Glucose</text><path d="M620 188.2H698" stroke="#FF0000" stroke-width="2.9"/><path d="M659 201.53L670.5 181.53L647.5 181.53Z" fill="none" stroke="#FF0000" stroke-width="3.4"/><text transform="translate(706.95,199.24) scale(0.9757,1)" font-size="35.976" fill="#FF0022" text-anchor="start">0.3%-Ethanol</text><path d="M244 232.5H324" stroke="#000" stroke-width="3.2"/><path d="M284.2 219.4L295.8 232.5L284.2 245.6L272.6 232.5Z" fill="none" stroke="#000" stroke-width="3.4"/><text transform="translate(333.25,243.46) scale(0.9703,1)" font-size="35.976" fill="#000" text-anchor="start">0.5%-Glucose</text><path d="M619 232.5H699" stroke="#FF0000" stroke-width="3.9"/><path d="M659 219.4L670.6 232.5L659 245.6L647.4 232.5Z" fill="none" stroke="#FF0000" stroke-width="3.4"/><text transform="translate(706.95,243.46) scale(0.9757,1)" font-size="35.976" fill="#FF0022" text-anchor="start">0.5%-Ethanol</text><polyline points="123,1330.25 237.7,1496.66 352.4,1659.2 467.1,1666.94 581.8,1664.36 696.5,1712.09 811.2,1771.95 925.9,1795.04 1040.6,1889.46 1155.3,1921.46" fill="none" stroke="#000" stroke-width="3.3" stroke-linejoin="round"/><polyline points="123,1336.7 237.7,1519.88 352.4,1679.84 467.1,1850.12 581.8,1958.48 696.5,1994.6 811.2,1994.6 925.9,1994.6 1040.6,1994.6 1155.3,1994.6" fill="none" stroke="#000" stroke-width="3.3" stroke-linejoin="round"/><polyline points="123,1343.15 237.7,1543.1 352.4,1719.83 467.1,1869.47 581.8,1961.06 696.5,1994.6 811.2,1994.6 925.9,1994.6 1040.6,1994.6 1155.3,1994.6" fill="none" stroke="#000" stroke-width="3.3" stroke-linejoin="round"/><polyline points="123,1349.6 237.7,1548.26 352.4,1732.73 467.1,1901.72 581.8,1963.64 696.5,1994.6 811.2,1994.6 925.9,1994.6 1040.6,1994.6 1155.3,1994.6" fill="none" stroke="#000" stroke-width="3.3" stroke-linejoin="round"/><polyline points="123,1352.18 237.7,1607.6 352.4,1833.35 467.1,1935.26 581.8,1992.02 696.5,1994.6 811.2,1994.6 925.9,1994.6 1040.6,1994.6 1155.3,1994.6" fill="none" stroke="#000" stroke-width="3.3" stroke-linejoin="round"/><path d="M111 1315.41H135M111 1345.09H135M123 1315.41V1318.45M123 1342.05V1345.09" stroke="#000" stroke-width="3.4" fill="none"/><path d="M225.7 1406.36H249.7M225.7 1586.96H249.7M237.7 1406.36V1484.86M237.7 1508.46V1586.96" stroke="#000" stroke-width="3.4" fill="none"/><path d="M340.4 1641.14H364.4M340.4 1663.07H364.4M352.4 1641.14V1647.4" stroke="#000" stroke-width="3.4" fill="none"/><path d="M455.1 1643.72H479.1M455.1 1690.16H479.1M467.1 1643.72V1655.14M467.1 1678.74V1690.16" stroke="#000" stroke-width="3.4" fill="none"/><path d="M913.9 1753.76H937.9M913.9 1836.32H937.9M925.9 1753.76V1783.24M925.9 1806.84V1836.32" stroke="#000" stroke-width="3.4" fill="none"/><path d="M1028.6 1846.89H1052.6M1028.6 1932.03H1052.6M1040.6 1846.89V1877.66M1040.6 1901.26V1932.03" stroke="#000" stroke-width="3.4" fill="none"/><path d="M1143.3 1895.66H1167.3M1143.3 1947.26H1167.3M1155.3 1895.66V1909.66M1155.3 1933.26V1947.26" stroke="#000" stroke-width="3.4" fill="none"/><path d="M225.7 1516.01H249.7M225.7 1588.25H249.7M237.7 1526.58V1588.25" stroke="#000" stroke-width="3.4" fill="none"/><path d="M455.1 1804.97H479.1M455.1 1895.27H479.1M467.1 1804.97V1836.82M467.1 1856.82V1895.27" stroke="#000" stroke-width="3.4" fill="none"/><path d="M225.7 1539.23H249.7M225.7 1574.06H249.7M237.7 1556.4V1574.06" stroke="#000" stroke-width="3.4" fill="none"/><path d="M340.4 1668.23H364.4M340.4 1771.43H364.4M352.4 1668.23V1713.13M352.4 1733.13V1771.43" stroke="#000" stroke-width="3.4" fill="none"/><path d="M455.1 1820.45H479.1M455.1 1918.49H479.1M467.1 1820.45V1862.77M467.1 1882.77V1918.49" stroke="#000" stroke-width="3.4" fill="none"/><path d="M225.7 1544.39H249.7M225.7 1581.8H249.7M237.7 1556.46V1581.8" stroke="#000" stroke-width="3.4" fill="none"/><path d="M225.7 1584.38H249.7M225.7 1630.82H249.7M237.7 1584.38V1597.9M237.7 1617.3V1630.82" stroke="#000" stroke-width="3.4" fill="none"/><path d="M340.4 1788.2H364.4M340.4 1878.5H364.4M352.4 1788.2V1823.65M352.4 1843.05V1878.5" stroke="#000" stroke-width="3.4" fill="none"/><path d="M455.1 1897.85H479.1M455.1 1972.67H479.1M467.1 1897.85V1925.56M467.1 1944.96V1972.67" stroke="#000" stroke-width="3.4" fill="none"/><path d="M123 1318.45L134.6 1330.25L123 1342.05L111.4 1330.25Z" fill="none" stroke="#000" stroke-width="3.3"/><path d="M237.7 1484.86L249.3 1496.66L237.7 1508.46L226.1 1496.66Z" fill="none" stroke="#000" stroke-width="3.3"/><path d="M352.4 1647.4L364 1659.2L352.4 1671L340.8 1659.2Z" fill="none" stroke="#000" stroke-width="3.3"/><path d="M467.1 1655.14L478.7 1666.94L467.1 1678.74L455.5 1666.94Z" fill="none" stroke="#000" stroke-width="3.3"/><path d="M581.8 1652.56L593.4 1664.36L581.8 1676.16L570.2 1664.36Z" fill="none" stroke="#000" stroke-width="3.3"/><path d="M696.5 1700.29L708.1 1712.09L696.5 1723.89L684.9 1712.09Z" fill="none" stroke="#000" stroke-width="3.3"/><path d="M811.2 1760.15L822.8 1771.95L811.2 1783.75L799.6 1771.95Z" fill="none" stroke="#000" stroke-width="3.3"/><path d="M925.9 1783.24L937.5 1795.04L925.9 1806.84L914.3 1795.04Z" fill="none" stroke="#000" stroke-width="3.3"/><path d="M1040.6 1877.66L1052.2 1889.46L1040.6 1901.26L1029 1889.46Z" fill="none" stroke="#000" stroke-width="3.3"/><path d="M1155.3 1909.66L1166.9 1921.46L1155.3 1933.26L1143.7 1921.46Z" fill="none" stroke="#000" stroke-width="3.3"/><path d="M123 1323.37L134.5 1343.37L111.5 1343.37Z" fill="none" stroke="#000" stroke-width="3.3"/><path d="M237.7 1506.55L249.2 1526.55L226.2 1526.55Z" fill="none" stroke="#000" stroke-width="3.3"/><path d="M352.4 1666.51L363.9 1686.51L340.9 1686.51Z" fill="none" stroke="#000" stroke-width="3.3"/><path d="M467.1 1836.79L478.6 1856.79L455.6 1856.79Z" fill="none" stroke="#000" stroke-width="3.3"/><path d="M581.8 1945.15L593.3 1965.15L570.3 1965.15Z" fill="none" stroke="#000" stroke-width="3.3"/><path d="M696.5 1981.27L708 2001.27L685 2001.27Z" fill="none" stroke="#000" stroke-width="3.3"/><path d="M811.2 1981.27L822.7 2001.27L799.7 2001.27Z" fill="none" stroke="#000" stroke-width="3.3"/><path d="M925.9 1981.27L937.4 2001.27L914.4 2001.27Z" fill="none" stroke="#000" stroke-width="3.3"/><path d="M1040.6 1981.27L1052.1 2001.27L1029.1 2001.27Z" fill="none" stroke="#000" stroke-width="3.3"/><path d="M1155.3 1981.27L1166.8 2001.27L1143.8 2001.27Z" fill="none" stroke="#000" stroke-width="3.3"/><path d="M123 1356.48L134.5 1336.48L111.5 1336.48Z" fill="none" stroke="#000" stroke-width="3.3"/><path d="M237.7 1556.43L249.2 1536.43L226.2 1536.43Z" fill="none" stroke="#000" stroke-width="3.3"/><path d="M352.4 1733.16L363.9 1713.16L340.9 1713.16Z" fill="none" stroke="#000" stroke-width="3.3"/><path d="M467.1 1882.8L478.6 1862.8L455.6 1862.8Z" fill="none" stroke="#000" stroke-width="3.3"/><path d="M581.8 1974.39L593.3 1954.39L570.3 1954.39Z" fill="none" stroke="#000" stroke-width="3.3"/><path d="M696.5 2007.93L708 1987.93L685 1987.93Z" fill="none" stroke="#000" stroke-width="3.3"/><path d="M811.2 2007.93L822.7 1987.93L799.7 1987.93Z" fill="none" stroke="#000" stroke-width="3.3"/><path d="M925.9 2007.93L937.4 1987.93L914.4 1987.93Z" fill="none" stroke="#000" stroke-width="3.3"/><path d="M1040.6 2007.93L1052.1 1987.93L1029.1 1987.93Z" fill="none" stroke="#000" stroke-width="3.3"/><path d="M1155.3 2007.93L1166.8 1987.93L1143.8 1987.93Z" fill="none" stroke="#000" stroke-width="3.3"/><rect x="114.8" y="1341.4" width="16.4" height="16.4" fill="none" stroke="#000" stroke-width="3.3"/><rect x="229.5" y="1540.06" width="16.4" height="16.4" fill="none" stroke="#000" stroke-width="3.3"/><rect x="344.2" y="1724.53" width="16.4" height="16.4" fill="none" stroke="#000" stroke-width="3.3"/><rect x="458.9" y="1893.52" width="16.4" height="16.4" fill="none" stroke="#000" stroke-width="3.3"/><rect x="573.6" y="1955.44" width="16.4" height="16.4" fill="none" stroke="#000" stroke-width="3.3"/><rect x="688.3" y="1986.4" width="16.4" height="16.4" fill="none" stroke="#000" stroke-width="3.3"/><rect x="803" y="1986.4" width="16.4" height="16.4" fill="none" stroke="#000" stroke-width="3.3"/><rect x="917.7" y="1986.4" width="16.4" height="16.4" fill="none" stroke="#000" stroke-width="3.3"/><rect x="1032.4" y="1986.4" width="16.4" height="16.4" fill="none" stroke="#000" stroke-width="3.3"/><rect x="1147.1" y="1986.4" width="16.4" height="16.4" fill="none" stroke="#000" stroke-width="3.3"/><ellipse cx="123" cy="1352.18" rx="9.0" ry="9.7" fill="none" stroke="#000" stroke-width="3.3"/><ellipse cx="237.7" cy="1607.6" rx="9.0" ry="9.7" fill="none" stroke="#000" stroke-width="3.3"/><ellipse cx="352.4" cy="1833.35" rx="9.0" ry="9.7" fill="none" stroke="#000" stroke-width="3.3"/><ellipse cx="467.1" cy="1935.26" rx="9.0" ry="9.7" fill="none" stroke="#000" stroke-width="3.3"/><ellipse cx="581.8" cy="1992.02" rx="9.0" ry="9.7" fill="none" stroke="#000" stroke-width="3.3"/><ellipse cx="696.5" cy="1994.6" rx="9.0" ry="9.7" fill="none" stroke="#000" stroke-width="3.3"/><ellipse cx="811.2" cy="1994.6" rx="9.0" ry="9.7" fill="none" stroke="#000" stroke-width="3.3"/><ellipse cx="925.9" cy="1994.6" rx="9.0" ry="9.7" fill="none" stroke="#000" stroke-width="3.3"/><ellipse cx="1040.6" cy="1994.6" rx="9.0" ry="9.7" fill="none" stroke="#000" stroke-width="3.3"/><ellipse cx="1155.3" cy="1994.6" rx="9.0" ry="9.7" fill="none" stroke="#000" stroke-width="3.3"/><polyline points="123,1958.48 237.7,1787.68 352.4,1680.61 467.1,1577.93 581.8,1504.66 696.5,1401.72 811.2,1427.26 925.9,1423.65 1040.6,1432.42 1155.3,1458.48" fill="none" stroke="#FF0000" stroke-width="3.1" stroke-linejoin="round"/><polyline points="123,1961.06 237.7,1836.7 352.4,1735.31 467.1,1683.45 581.8,1593.41 696.5,1524.27 811.2,1554.97 925.9,1550.58 1040.6,1547.23 1155.3,1561.42" fill="none" stroke="#FF0000" stroke-width="3.1" stroke-linejoin="round"/><polyline points="123,1963.64 237.7,1853.73 352.4,1806.26 467.1,1704.09 581.8,1655.85 696.5,1609.41 811.2,1626.95 925.9,1646.82 1040.6,1652.23 1155.3,1661.01" fill="none" stroke="#FF0000" stroke-width="3.1" stroke-linejoin="round"/><polyline points="123,1966.22 237.7,1900.43 352.4,1832.06 467.1,1774.27 581.8,1707.45 696.5,1662.81 811.2,1679.58 925.9,1680.61 1040.6,1681.65 1155.3,1687.32" fill="none" stroke="#FF0000" stroke-width="3.1" stroke-linejoin="round"/><polyline points="123,1970.61 237.7,1969.57 352.4,1935.26 467.1,1893.46 581.8,1834.38 696.5,1748.98 811.2,1760.08 925.9,1751.31 1040.6,1759.05 1155.3,1767.3" fill="none" stroke="#FF0000" stroke-width="3.1" stroke-linejoin="round"/><path d="M225.7 1779.94H249.7M225.7 1795.42H249.7" stroke="#FF0000" stroke-width="3.4" fill="none"/><path d="M340.4 1658.68H364.4M340.4 1702.54H364.4M352.4 1658.68V1670.91M352.4 1690.31V1702.54" stroke="#FF0000" stroke-width="3.4" fill="none"/><path d="M455.1 1559.87H479.1M455.1 1595.99H479.1M467.1 1559.87V1568.23M467.1 1587.63V1595.99" stroke="#FF0000" stroke-width="3.4" fill="none"/><path d="M799.2 1402.75H823.2M799.2 1451.77H823.2M811.2 1402.75V1417.56M811.2 1436.96V1451.77" stroke="#FF0000" stroke-width="3.4" fill="none"/><path d="M913.9 1397.85H937.9M913.9 1449.45H937.9M925.9 1397.85V1413.95M925.9 1433.35V1449.45" stroke="#FF0000" stroke-width="3.4" fill="none"/><path d="M1028.6 1414.36H1052.6M1028.6 1450.48H1052.6M1040.6 1414.36V1422.72M1040.6 1442.12V1450.48" stroke="#FF0000" stroke-width="3.4" fill="none"/><path d="M1143.3 1440.42H1167.3M1143.3 1476.54H1167.3M1155.3 1440.42V1448.78M1155.3 1468.18V1476.54" stroke="#FF0000" stroke-width="3.4" fill="none"/><path d="M225.7 1816.06H249.7M225.7 1857.34H249.7M237.7 1816.06V1828.5M237.7 1844.9V1857.34" stroke="#FF0000" stroke-width="3.4" fill="none"/><path d="M340.4 1712.09H364.4M340.4 1758.53H364.4M352.4 1712.09V1727.11M352.4 1743.51V1758.53" stroke="#FF0000" stroke-width="3.4" fill="none"/><path d="M455.1 1657.65H479.1M455.1 1709.25H479.1M467.1 1657.65V1675.25M467.1 1691.65V1709.25" stroke="#FF0000" stroke-width="3.4" fill="none"/><path d="M569.8 1568.9H593.8M569.8 1617.92H593.8M581.8 1568.9V1585.21M581.8 1601.61V1617.92" stroke="#FF0000" stroke-width="3.4" fill="none"/><path d="M684.5 1477.83H708.5M684.5 1570.71H708.5M696.5 1477.83V1516.07M696.5 1532.47V1570.71" stroke="#FF0000" stroke-width="3.4" fill="none"/><path d="M799.2 1527.88H823.2M799.2 1582.06H823.2M811.2 1527.88V1546.77M811.2 1563.17V1582.06" stroke="#FF0000" stroke-width="3.4" fill="none"/><path d="M913.9 1523.49H937.9M913.9 1577.67H937.9M925.9 1523.49V1542.38M925.9 1558.78V1577.67" stroke="#FF0000" stroke-width="3.4" fill="none"/><path d="M1028.6 1516.27H1052.6M1028.6 1578.19H1052.6M1040.6 1516.27V1539.03M1040.6 1555.43V1578.19" stroke="#FF0000" stroke-width="3.4" fill="none"/><path d="M1143.3 1548.52H1167.3M1143.3 1574.32H1167.3M1155.3 1548.52V1553.22M1155.3 1569.62V1574.32" stroke="#FF0000" stroke-width="3.4" fill="none"/><path d="M225.7 1843.41H249.7M225.7 1864.05H249.7M237.7 1860.43V1864.05" stroke="#FF0000" stroke-width="3.4" fill="none"/><path d="M340.4 1781.75H364.4M340.4 1814H364.4M352.4 1781.75V1792.96M352.4 1812.96V1814" stroke="#FF0000" stroke-width="3.4" fill="none"/><path d="M455.1 1693.77H479.1M455.1 1714.41H479.1M467.1 1710.79V1714.41" stroke="#FF0000" stroke-width="3.4" fill="none"/><path d="M569.8 1635.21H593.8M569.8 1676.49H593.8M581.8 1635.21V1642.55M581.8 1662.55V1676.49" stroke="#FF0000" stroke-width="3.4" fill="none"/><path d="M684.5 1586.19H708.5M684.5 1632.63H708.5M696.5 1586.19V1596.11M696.5 1616.11V1632.63" stroke="#FF0000" stroke-width="3.4" fill="none"/><path d="M799.2 1616.63H823.2M799.2 1637.27H823.2M811.2 1633.65V1637.27" stroke="#FF0000" stroke-width="3.4" fill="none"/><path d="M913.9 1636.5H937.9M913.9 1657.14H937.9M925.9 1653.52V1657.14" stroke="#FF0000" stroke-width="3.4" fill="none"/><path d="M1028.6 1631.59H1052.6M1028.6 1672.87H1052.6M1040.6 1631.59V1638.93M1040.6 1658.93V1672.87" stroke="#FF0000" stroke-width="3.4" fill="none"/><path d="M1143.3 1653.27H1167.3M1143.3 1668.75H1167.3M1155.3 1667.71V1668.75" stroke="#FF0000" stroke-width="3.4" fill="none"/><path d="M225.7 1891.4H249.7M225.7 1909.46H249.7M237.7 1891.4V1893.73" stroke="#FF0000" stroke-width="3.4" fill="none"/><path d="M340.4 1821.74H364.4M340.4 1842.38H364.4M352.4 1821.74V1825.36" stroke="#FF0000" stroke-width="3.4" fill="none"/><path d="M455.1 1749.24H479.1M455.1 1799.29H479.1M467.1 1749.24V1767.57M467.1 1787.57V1799.29" stroke="#FF0000" stroke-width="3.4" fill="none"/><path d="M569.8 1699.71H593.8M569.8 1715.19H593.8M581.8 1699.71V1700.75" stroke="#FF0000" stroke-width="3.4" fill="none"/><path d="M913.9 1667.71H937.9M913.9 1693.51H937.9M925.9 1667.71V1673.91" stroke="#FF0000" stroke-width="3.4" fill="none"/><path d="M1028.6 1663.59H1052.6M1028.6 1699.71H1052.6M1040.6 1663.59V1674.95M1040.6 1694.95V1699.71" stroke="#FF0000" stroke-width="3.4" fill="none"/><path d="M1143.3 1674.42H1167.3M1143.3 1700.22H1167.3M1155.3 1674.42V1680.62" stroke="#FF0000" stroke-width="3.4" fill="none"/><path d="M225.7 1963.12H249.7M225.7 1976.02H249.7" stroke="#FF0000" stroke-width="3.4" fill="none"/><path d="M340.4 1927.52H364.4M340.4 1943H364.4" stroke="#FF0000" stroke-width="3.4" fill="none"/><path d="M455.1 1885.72H479.1M455.1 1901.2H479.1" stroke="#FF0000" stroke-width="3.4" fill="none"/><path d="M569.8 1821.48H593.8M569.8 1847.28H593.8M581.8 1821.48V1822.58M581.8 1846.18V1847.28" stroke="#FF0000" stroke-width="3.4" fill="none"/><path d="M684.5 1715.44H708.5M684.5 1782.52H708.5M696.5 1715.44V1737.18M696.5 1760.78V1782.52" stroke="#FF0000" stroke-width="3.4" fill="none"/><path d="M799.2 1734.28H823.2M799.2 1785.88H823.2M811.2 1734.28V1748.28M811.2 1771.88V1785.88" stroke="#FF0000" stroke-width="3.4" fill="none"/><path d="M913.9 1725.51H937.9M913.9 1777.11H937.9M925.9 1725.51V1739.51M925.9 1763.11V1777.11" stroke="#FF0000" stroke-width="3.4" fill="none"/><path d="M1028.6 1733.25H1052.6M1028.6 1784.85H1052.6M1040.6 1733.25V1747.25M1040.6 1770.85V1784.85" stroke="#FF0000" stroke-width="3.4" fill="none"/><path d="M1143.3 1741.5H1167.3M1143.3 1793.1H1167.3M1155.3 1741.5V1755.5M1155.3 1779.1V1793.1" stroke="#FF0000" stroke-width="3.4" fill="none"/><ellipse cx="123" cy="1958.48" rx="9.0" ry="9.7" fill="none" stroke="#FF0000" stroke-width="3.3"/><ellipse cx="237.7" cy="1787.68" rx="9.0" ry="9.7" fill="none" stroke="#FF0000" stroke-width="3.3"/><ellipse cx="352.4" cy="1680.61" rx="9.0" ry="9.7" fill="none" stroke="#FF0000" stroke-width="3.3"/><ellipse cx="467.1" cy="1577.93" rx="9.0" ry="9.7" fill="none" stroke="#FF0000" stroke-width="3.3"/><ellipse cx="581.8" cy="1504.66" rx="9.0" ry="9.7" fill="none" stroke="#FF0000" stroke-width="3.3"/><ellipse cx="696.5" cy="1401.72" rx="9.0" ry="9.7" fill="none" stroke="#FF0000" stroke-width="3.3"/><ellipse cx="811.2" cy="1427.26" rx="9.0" ry="9.7" fill="none" stroke="#FF0000" stroke-width="3.3"/><ellipse cx="925.9" cy="1423.65" rx="9.0" ry="9.7" fill="none" stroke="#FF0000" stroke-width="3.3"/><ellipse cx="1040.6" cy="1432.42" rx="9.0" ry="9.7" fill="none" stroke="#FF0000" stroke-width="3.3"/><ellipse cx="1155.3" cy="1458.48" rx="9.0" ry="9.7" fill="none" stroke="#FF0000" stroke-width="3.3"/><rect x="114.8" y="1952.86" width="16.4" height="16.4" fill="none" stroke="#FF0000" stroke-width="3.3"/><rect x="229.5" y="1828.5" width="16.4" height="16.4" fill="none" stroke="#FF0000" stroke-width="3.3"/><rect x="344.2" y="1727.11" width="16.4" height="16.4" fill="none" stroke="#FF0000" stroke-width="3.3"/><rect x="458.9" y="1675.25" width="16.4" height="16.4" fill="none" stroke="#FF0000" stroke-width="3.3"/><rect x="573.6" y="1585.21" width="16.4" height="16.4" fill="none" stroke="#FF0000" stroke-width="3.3"/><rect x="688.3" y="1516.07" width="16.4" height="16.4" fill="none" stroke="#FF0000" stroke-width="3.3"/><rect x="803" y="1546.77" width="16.4" height="16.4" fill="none" stroke="#FF0000" stroke-width="3.3"/><rect x="917.7" y="1542.38" width="16.4" height="16.4" fill="none" stroke="#FF0000" stroke-width="3.3"/><rect x="1032.4" y="1539.03" width="16.4" height="16.4" fill="none" stroke="#FF0000" stroke-width="3.3"/><rect x="1147.1" y="1553.22" width="16.4" height="16.4" fill="none" stroke="#FF0000" stroke-width="3.3"/><path d="M123 1950.31L134.5 1970.31L111.5 1970.31Z" fill="none" stroke="#FF0000" stroke-width="3.3"/><path d="M237.7 1840.4L249.2 1860.4L226.2 1860.4Z" fill="none" stroke="#FF0000" stroke-width="3.3"/><path d="M352.4 1792.93L363.9 1812.93L340.9 1812.93Z" fill="none" stroke="#FF0000" stroke-width="3.3"/><path d="M467.1 1690.76L478.6 1710.76L455.6 1710.76Z" fill="none" stroke="#FF0000" stroke-width="3.3"/><path d="M581.8 1642.51L593.3 1662.51L570.3 1662.51Z" fill="none" stroke="#FF0000" stroke-width="3.3"/><path d="M696.5 1596.07L708 1616.07L685 1616.07Z" fill="none" stroke="#FF0000" stroke-width="3.3"/><path d="M811.2 1613.62L822.7 1633.62L799.7 1633.62Z" fill="none" stroke="#FF0000" stroke-width="3.3"/><path d="M925.9 1633.48L937.4 1653.48L914.4 1653.48Z" fill="none" stroke="#FF0000" stroke-width="3.3"/><path d="M1040.6 1638.9L1052.1 1658.9L1029.1 1658.9Z" fill="none" stroke="#FF0000" stroke-width="3.3"/><path d="M1155.3 1647.67L1166.8 1667.67L1143.8 1667.67Z" fill="none" stroke="#FF0000" stroke-width="3.3"/><path d="M123 1979.55L134.5 1959.55L111.5 1959.55Z" fill="none" stroke="#FF0000" stroke-width="3.3"/><path d="M237.7 1913.76L249.2 1893.76L226.2 1893.76Z" fill="none" stroke="#FF0000" stroke-width="3.3"/><path d="M352.4 1845.39L363.9 1825.39L340.9 1825.39Z" fill="none" stroke="#FF0000" stroke-width="3.3"/><path d="M467.1 1787.6L478.6 1767.6L455.6 1767.6Z" fill="none" stroke="#FF0000" stroke-width="3.3"/><path d="M581.8 1720.78L593.3 1700.78L570.3 1700.78Z" fill="none" stroke="#FF0000" stroke-width="3.3"/><path d="M696.5 1676.15L708 1656.15L685 1656.15Z" fill="none" stroke="#FF0000" stroke-width="3.3"/><path d="M811.2 1692.92L822.7 1672.92L799.7 1672.92Z" fill="none" stroke="#FF0000" stroke-width="3.3"/><path d="M925.9 1693.95L937.4 1673.95L914.4 1673.95Z" fill="none" stroke="#FF0000" stroke-width="3.3"/><path d="M1040.6 1694.98L1052.1 1674.98L1029.1 1674.98Z" fill="none" stroke="#FF0000" stroke-width="3.3"/><path d="M1155.3 1700.66L1166.8 1680.66L1143.8 1680.66Z" fill="none" stroke="#FF0000" stroke-width="3.3"/><path d="M123 1958.81L134.6 1970.61L123 1982.41L111.4 1970.61Z" fill="none" stroke="#FF0000" stroke-width="3.3"/><path d="M237.7 1957.77L249.3 1969.57L237.7 1981.37L226.1 1969.57Z" fill="none" stroke="#FF0000" stroke-width="3.3"/><path d="M352.4 1923.46L364 1935.26L352.4 1947.06L340.8 1935.26Z" fill="none" stroke="#FF0000" stroke-width="3.3"/><path d="M467.1 1881.66L478.7 1893.46L467.1 1905.26L455.5 1893.46Z" fill="none" stroke="#FF0000" stroke-width="3.3"/><path d="M581.8 1822.58L593.4 1834.38L581.8 1846.18L570.2 1834.38Z" fill="none" stroke="#FF0000" stroke-width="3.3"/><path d="M696.5 1737.18L708.1 1748.98L696.5 1760.78L684.9 1748.98Z" fill="none" stroke="#FF0000" stroke-width="3.3"/><path d="M811.2 1748.28L822.8 1760.08L811.2 1771.88L799.6 1760.08Z" fill="none" stroke="#FF0000" stroke-width="3.3"/><path d="M925.9 1739.51L937.5 1751.31L925.9 1763.11L914.3 1751.31Z" fill="none" stroke="#FF0000" stroke-width="3.3"/><path d="M1040.6 1747.25L1052.2 1759.05L1040.6 1770.85L1029 1759.05Z" fill="none" stroke="#FF0000" stroke-width="3.3"/><path d="M1155.3 1755.5L1166.9 1767.3L1155.3 1779.1L1143.7 1767.3Z" fill="none" stroke="#FF0000" stroke-width="3.3"/><polygon points="123,1319 135.5,1327 138,1331 134,1337.5 137,1341 137,1349 134.5,1352 134.5,1364.5 111.5,1364.5 111.5,1352 108,1349 108,1341 111,1337.5 108,1331 110.5,1327" fill="#000"/><rect x="109" y="1942" width="27" height="30" fill="#FF0000"/><path d="M123 1957.2L134.6 1969L123 1980.8L111.4 1969Z" fill="#FF0000" stroke="#FF0000" stroke-width="3.3"/><path d="M123 1219V1996.3" stroke="#000" stroke-width="3.4"/><path d="M109 1994.6H123M115 1968.8H123M115 1943H123M115 1917.2H123M115 1891.4H123M109 1865.6H123M115 1839.8H123M115 1814H123M115 1788.2H123M115 1762.4H123M109 1736.6H123M115 1710.8H123M115 1685H123M115 1659.2H123M115 1633.4H123M109 1607.6H123M115 1581.8H123M115 1556H123M115 1530.2H123M115 1504.4H123M109 1478.6H123M115 1452.8H123M115 1427H123M115 1401.2H123M115 1375.4H123M109 1349.6H123M115 1323.8H123M115 1298H123M115 1272.2H123M115 1246.4H123M109 1220.6H123" stroke="#000" stroke-width="3.4"/><path d="M109 1994.6H1155.2" stroke="#000" stroke-width="3.4"/><path d="M123 1994.6V2007.6M142.12 1994.6V2001.6M161.23 1994.6V2001.6M180.35 1994.6V2001.6M199.47 1994.6V2001.6M218.58 1994.6V2001.6M237.7 1994.6V2007.6M256.82 1994.6V2001.6M275.93 1994.6V2001.6M295.05 1994.6V2001.6M314.17 1994.6V2001.6M333.28 1994.6V2001.6M352.4 1994.6V2007.6M371.52 1994.6V2001.6M390.63 1994.6V2001.6M409.75 1994.6V2001.6M428.87 1994.6V2001.6M447.98 1994.6V2001.6M467.1 1994.6V2007.6M486.22 1994.6V2001.6M505.33 1994.6V2001.6M524.45 1994.6V2001.6M543.57 1994.6V2001.6M562.68 1994.6V2001.6M581.8 1994.6V2007.6M600.91 1994.6V2001.6M620.03 1994.6V2001.6M639.15 1994.6V2001.6M658.26 1994.6V2001.6M677.38 1994.6V2001.6M696.5 1994.6V2007.6M715.61 1994.6V2001.6M734.73 1994.6V2001.6M753.85 1994.6V2001.6M772.96 1994.6V2001.6M792.08 1994.6V2001.6M811.2 1994.6V2007.6M830.31 1994.6V2001.6M849.43 1994.6V2001.6M868.55 1994.6V2001.6M887.66 1994.6V2001.6M906.78 1994.6V2001.6M925.9 1994.6V2007.6M945.01 1994.6V2001.6M964.13 1994.6V2001.6M983.25 1994.6V2001.6M1002.36 1994.6V2001.6M1021.48 1994.6V2001.6M1040.6 1994.6V2007.6M1059.71 1994.6V2001.6M1078.83 1994.6V2001.6M1097.95 1994.6V2001.6M1117.06 1994.6V2001.6M1136.18 1994.6V2001.6M1155.3 1994.6V2007.6" stroke="#000" stroke-width="3.4"/><path d="M1155.2 1219V1996.3" stroke="#FF0000" stroke-width="3.4"/><path d="M1155.2 1994.6H1169.2M1155.2 1968.8H1163.2M1155.2 1943H1163.2M1155.2 1917.2H1163.2M1155.2 1891.4H1163.2M1155.2 1865.6H1169.2M1155.2 1839.8H1163.2M1155.2 1814H1163.2M1155.2 1788.2H1163.2M1155.2 1762.4H1163.2M1155.2 1736.6H1169.2M1155.2 1710.8H1163.2M1155.2 1685H1163.2M1155.2 1659.2H1163.2M1155.2 1633.4H1163.2M1155.2 1607.6H1169.2M1155.2 1581.8H1163.2M1155.2 1556H1163.2M1155.2 1530.2H1163.2M1155.2 1504.4H1163.2M1155.2 1478.6H1169.2M1155.2 1452.8H1163.2M1155.2 1427H1163.2M1155.2 1401.2H1163.2M1155.2 1375.4H1163.2M1155.2 1349.6H1169.2M1155.2 1323.8H1163.2M1155.2 1298H1163.2M1155.2 1272.2H1163.2M1155.2 1246.4H1163.2M1155.2 1220.6H1169.2" stroke="#FF0000" stroke-width="3.4"/><text transform="translate(98.98,2004) scale(0.915,1)" font-size="35.8" fill="#000" text-anchor="end">0</text><text transform="translate(98.98,1875) scale(0.915,1)" font-size="35.8" fill="#000" text-anchor="end">10</text><text transform="translate(98.98,1746) scale(0.915,1)" font-size="35.8" fill="#000" text-anchor="end">20</text><text transform="translate(98.98,1617) scale(0.915,1)" font-size="35.8" fill="#000" text-anchor="end">30</text><text transform="translate(98.98,1488) scale(0.915,1)" font-size="35.8" fill="#000" text-anchor="end">40</text><text transform="translate(98.98,1359) scale(0.915,1)" font-size="35.8" fill="#000" text-anchor="end">50</text><text transform="translate(98.98,1230) scale(0.915,1)" font-size="35.8" fill="#000" text-anchor="end">60</text><text transform="translate(1178.1,2003.35) scale(0.915,1)" font-size="35.8" fill="#FF0000" text-anchor="start">0</text><text transform="translate(1178.1,1874.35) scale(0.915,1)" font-size="35.8" fill="#FF0000" text-anchor="start">5</text><text transform="translate(1178.1,1745.35) scale(0.915,1)" font-size="35.8" fill="#FF0000" text-anchor="start">10</text><text transform="translate(1178.1,1616.35) scale(0.915,1)" font-size="35.8" fill="#FF0000" text-anchor="start">15</text><text transform="translate(1178.1,1487.35) scale(0.915,1)" font-size="35.8" fill="#FF0000" text-anchor="start">20</text><text transform="translate(1178.1,1358.35) scale(0.915,1)" font-size="35.8" fill="#FF0000" text-anchor="start">25</text><text transform="translate(1178.1,1229.35) scale(0.915,1)" font-size="35.8" fill="#FF0000" text-anchor="start">30</text><text transform="translate(122.7,2044.35) scale(0.915,1)" font-size="35.8" fill="#000" text-anchor="middle">0</text><text transform="translate(237.4,2044.35) scale(0.915,1)" font-size="35.8" fill="#000" text-anchor="middle">12</text><text transform="translate(352.1,2044.35) scale(0.915,1)" font-size="35.8" fill="#000" text-anchor="middle">24</text><text transform="translate(466.8,2044.35) scale(0.915,1)" font-size="35.8" fill="#000" text-anchor="middle">36</text><text transform="translate(581.5,2044.35) scale(0.915,1)" font-size="35.8" fill="#000" text-anchor="middle">48</text><text transform="translate(696.2,2044.35) scale(0.915,1)" font-size="35.8" fill="#000" text-anchor="middle">60</text><text transform="translate(810.9,2044.35) scale(0.915,1)" font-size="35.8" fill="#000" text-anchor="middle">72</text><text transform="translate(925.6,2044.35) scale(0.915,1)" font-size="35.8" fill="#000" text-anchor="middle">84</text><text transform="translate(1040.3,2044.35) scale(0.915,1)" font-size="35.8" fill="#000" text-anchor="middle">96</text><text transform="translate(1155,2044.35) scale(0.915,1)" font-size="35.8" fill="#000" text-anchor="middle">108</text><text transform="translate(559.3,2103.3) scale(1.001,1)" font-size="37.987" fill="#000" text-anchor="start">Time (h)</text><text transform="translate(33.65,1860.15) rotate(-90) scale(1.0213,1)" font-size="37.265" fill="#000" text-anchor="start">Glucose concentration (g/L)</text><text transform="translate(1261.15,1879.7) rotate(-90) scale(1.0109,1)" font-size="37.694" fill="#FF0000" text-anchor="start">Ethanol concentration (g/L)</text><text transform="translate(5.35,1117) scale(1.0073,1)" font-size="42.093" fill="#000" text-anchor="start">B</text><text transform="translate(99.2,1156.35) scale(0.9451,1)" font-size="39.897" fill="#000" text-anchor="start" xml:space="preserve">Nicotine addition of  <tspan font-style="italic">I. orientalis</tspan> HN-1</text><path d="M252.5 1191.9H332.5" stroke="#000" stroke-width="3.4"/><ellipse cx="292.5" cy="1191.9" rx="9.0" ry="9.7" fill="none" stroke="#000" stroke-width="3.3"/><text transform="translate(342.88,1204.3) scale(0.9417,1)" font-size="36.089" fill="#000" text-anchor="start">Control-Glucose</text><path d="M617.2 1191.9H700.4" stroke="#FF0000" stroke-width="3.1"/><ellipse cx="658.3" cy="1191.9" rx="9.0" ry="9.7" fill="none" stroke="#FF0000" stroke-width="3.3"/><text transform="translate(707.6,1204.3) scale(0.9533,1)" font-size="36.089" fill="#FF0022" text-anchor="start">Control-Ethanol</text><path d="M252.5 1235.3H332.5" stroke="#000" stroke-width="3.4"/><rect x="284.3" y="1227.1" width="16.4" height="16.4" fill="none" stroke="#000" stroke-width="3.3"/><text transform="translate(341.6,1247.75) scale(0.9417,1)" font-size="36.089" fill="#000" text-anchor="start">0.1%-Glucose</text><path d="M611.4 1235.3H692.6" stroke="#FF0000" stroke-width="3.1"/><rect x="642.8" y="1227.1" width="16.4" height="16.4" fill="none" stroke="#FF0000" stroke-width="3.3"/><text transform="translate(701.1,1247.75) scale(0.9533,1)" font-size="36.089" fill="#FF0022" text-anchor="start">0.1%-Ethanol</text><path d="M252.5 1278.8H332.5" stroke="#000" stroke-width="3.4"/><path d="M292.5 1265.47L304 1285.47L281 1285.47Z" fill="none" stroke="#000" stroke-width="3.3"/><text transform="translate(341.6,1291.2) scale(0.9417,1)" font-size="36.089" fill="#000" text-anchor="start">0.2%-Glucose</text><path d="M611.4 1278.8H692.6" stroke="#FF0000" stroke-width="3.1"/><path d="M651.5 1265.47L663 1285.47L640 1285.47Z" fill="none" stroke="#FF0000" stroke-width="3.3"/><text transform="translate(701.1,1291.2) scale(0.9533,1)" font-size="36.089" fill="#FF0022" text-anchor="start">0.2%-Ethanol</text><path d="M252.5 1322.2H332.5" stroke="#000" stroke-width="3.4"/><path d="M292.5 1335.53L304 1315.53L281 1315.53Z" fill="none" stroke="#000" stroke-width="3.3"/><text transform="translate(341.6,1334.65) scale(0.9417,1)" font-size="36.089" fill="#000" text-anchor="start">0.3%-Glucose</text><path d="M611.4 1322.2H692.6" stroke="#FF0000" stroke-width="3.1"/><path d="M651.5 1335.53L663 1315.53L640 1315.53Z" fill="none" stroke="#FF0000" stroke-width="3.3"/><text transform="translate(701.1,1334.65) scale(0.9533,1)" font-size="36.089" fill="#FF0022" text-anchor="start">0.3%-Ethanol</text><path d="M252.5 1365.7H332.5" stroke="#000" stroke-width="3.4"/><path d="M292.5 1352.6L304.1 1365.7L292.5 1378.8L280.9 1365.7Z" fill="none" stroke="#000" stroke-width="3.3"/><text transform="translate(341.6,1378.1) scale(0.9417,1)" font-size="36.089" fill="#000" text-anchor="start">0.5%-Glucose</text><path d="M611.4 1365.7H692.6" stroke="#FF0000" stroke-width="3.1"/><path d="M651 1352.6L662.6 1365.7L651 1378.8L639.4 1365.7Z" fill="none" stroke="#FF0000" stroke-width="3.3"/><text transform="translate(701.1,1378.1) scale(0.9533,1)" font-size="36.089" fill="#FF0022" text-anchor="start">0.5%-Ethanol</text></svg>
</body></html>
